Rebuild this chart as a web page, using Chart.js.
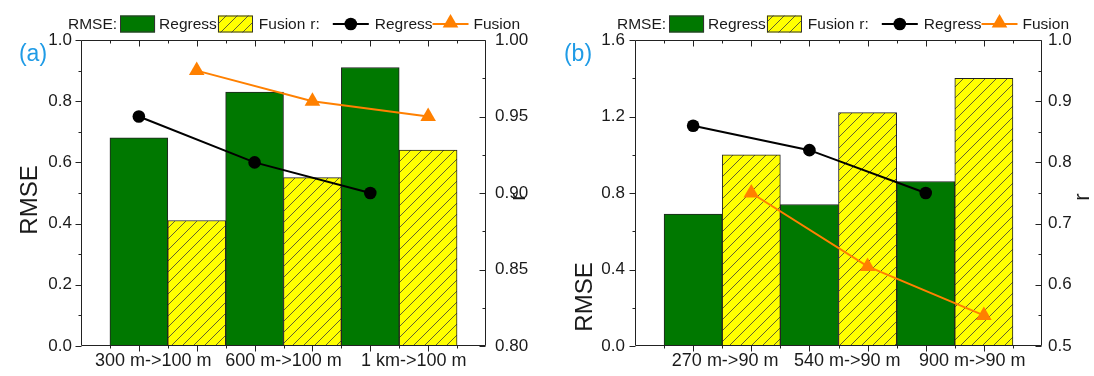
<!DOCTYPE html>
<html>
<head>
<meta charset="utf-8">
<script src="https://cdn.jsdelivr.net/npm/chart.js@4/dist/chart.umd.min.js"></script>
<style>
  html, body { margin: 0; padding: 0; background: #fff; }
  #wrap { display: flex; width: 1094px; height: 376px; }
  .panel { width: 547px; height: 376px; }
  canvas { display: block; }
</style>
</head>
<body>
<div id="wrap">
  <div class="panel"><canvas id="chartA" width="547" height="376"></canvas></div>
  <div class="panel"><canvas id="chartB" width="547" height="376"></canvas></div>
</div>
<script>
// (a) 300 m / 600 m / 1 km downscaled to 100 m
const groupsA = ["300 m->100 m", "600 m->100 m", "1 km->100 m"];
const rmseRegressA = [0.68, 0.83, 0.91];
const rmseFusionA = [0.41, 0.55, 0.64];
const rRegressA = [0.95, 0.92, 0.90];
const rFusionA = [0.98, 0.96, 0.95];
const rmseTicksA = [0.0, 0.2, 0.4, 0.6, 0.8, 1.0];
const rTicksA = [0.80, 0.85, 0.90, 0.95, 1.00];

// (b) 270 m / 540 m / 900 m downscaled to 90 m
const groupsB = ["270 m->90 m", "540 m->90 m", "900 m->90 m"];
const rmseRegressB = [0.69, 0.74, 0.86];
const rmseFusionB = [1.00, 1.22, 1.40];
const rRegressB = [0.86, 0.82, 0.75];
const rFusionB = [0.75, 0.63, 0.55];
const rmseTicksB = [0.0, 0.4, 0.8, 1.2, 1.6];
const rTicksB = [0.5, 0.6, 0.7, 0.8, 0.9, 1.0];

const GREEN = "#007800";
const YELLOW = "#ffff00";
const ORANGE = "#ff8000";
const INK = "#1a1a1a";
const FONT = '"Liberation Sans", Arial, sans-serif';
const TRI = 9;
const DOT = 6.3;
Chart.defaults.font.family = FONT;

// bars sit at 0..5: Regress on even slots, Fusion on odd slots
function points(vals, offset) {
    const out = [];
    for (let i = 0; i < vals.length; i++) {
        out.push({ x: 2 * i + offset, y: vals[i] });
    }
    return out;
}

function hatch(ctx) {
    const n = 11;
    const c = document.createElement("canvas");
    c.width = n;
    c.height = n;
    const g = c.getContext("2d");
    g.fillStyle = YELLOW;
    g.fillRect(0, 0, n, n);
    g.strokeStyle = "#3a3a3a";
    g.lineWidth = 0.8;
    g.beginPath();
    g.moveTo(0, n); g.lineTo(n, 0);
    g.moveTo(-n / 2, n / 2); g.lineTo(n / 2, -n / 2);
    g.moveTo(n / 2, n * 1.5); g.lineTo(n * 1.5, n / 2);
    g.stroke();
    return ctx.createPattern(c, "repeat");
}

function triangle(ctx, cx, cy, rad) {
    ctx.beginPath();
    for (let k = 0; k < 3; k++) {
        const a = k * 2 * Math.PI / 3;
        const px = cx + Math.sin(a) * rad, py = cy - Math.cos(a) * rad;
        if (k === 0) ctx.moveTo(px, py); else ctx.lineTo(px, py);
    }
    ctx.closePath();
    ctx.fill();
}

function drawLegend(ctx, x, y, pattern) {
    ctx.font = "15.5px " + FONT;
    ctx.textBaseline = "middle";
    ctx.textAlign = "left";
    const text = function(s) {
        ctx.fillStyle = INK;
        ctx.fillText(s, x, y + 1);
        x += ctx.measureText(s).width;
    };
    const box = function(fill) {
        ctx.fillStyle = fill;
        ctx.fillRect(x, y - 8.5, 35, 17);
        ctx.strokeStyle = "#333";
        ctx.lineWidth = 1;
        ctx.strokeRect(Math.round(x) + 0.5, y - 8, 34, 16);
        x += 35;
    };
    const sym = function(color, shape) {
        ctx.strokeStyle = color;
        ctx.fillStyle = color;
        ctx.lineWidth = 2;
        ctx.beginPath();
        ctx.moveTo(x, y); ctx.lineTo(x + 36, y);
        ctx.stroke();
        if (shape === "circle") {
            ctx.beginPath();
            ctx.arc(x + 18, y, DOT, 0, Math.PI * 2);
            ctx.fill();
        } else {
            triangle(ctx, x + 18, y - 1, TRI);
        }
        x += 36;
    };
    text("RMSE:"); x += 3;
    box(GREEN); x += 4;
    text("Regress"); x += 1;
    box(pattern); x += 6;
    text("Fusion"); x += 5;
    text("r:"); x += 13;
    sym("#000", "circle"); x += 6;
    text("Regress");
    sym(ORANGE, "tri"); x += 5;
    text("Fusion");
}

function decorations(d, lay, pattern) {
    return {
        id: "decor",
        afterDatasetsDraw(chart) {
            const ctx = chart.ctx;
            const area = chart.chartArea;
            const sx = chart.scales.x, sy = chart.scales.y, sr = chart.scales.y2;
            const L = Math.round(area.left) + 0.5, R = Math.round(area.right) - 0.5;
            const T = Math.round(area.top) + 0.5, B = Math.round(area.bottom) - 0.5;
            ctx.save();
            ctx.strokeStyle = "#222";
            ctx.lineWidth = 1;
            ctx.beginPath();
            ctx.rect(L, T, R - L, B - T);

            // x ticks: long at bar centres, short at bar edges
            const nBars = d.groups.length * 2;
            for (let v = -0.5; v <= nBars - 0.5 + 1e-9; v += 0.5) {
                const len = Number.isInteger(v) ? 6 : 3;
                const px = Math.round(sx.getPixelForValue(v)) + 0.5;
                ctx.moveTo(px, B); ctx.lineTo(px, B + len);
                ctx.moveTo(px, T); ctx.lineTo(px, T + len);
            }
            // y ticks: left axis outward, right axis inward
            const yTicks = function(ticks, scale, x0, dir) {
                for (let i = 0; i < ticks.length; i++) {
                    const py = Math.round(scale.getPixelForValue(ticks[i])) + 0.5;
                    ctx.moveTo(x0, py); ctx.lineTo(x0 + dir * 6, py);
                    if (i < ticks.length - 1) {
                        const pm = Math.round(scale.getPixelForValue((ticks[i] + ticks[i + 1]) / 2)) + 0.5;
                        ctx.moveTo(x0, pm); ctx.lineTo(x0 + dir * 3, pm);
                    }
                }
            };
            yTicks(d.rmseTicks, sy, L, -1);
            yTicks(d.rTicks, sr, R, -1);
            ctx.stroke();
            ctx.restore();
        },
        afterDraw(chart) {
            const ctx = chart.ctx;
            const area = chart.chartArea;
            ctx.save();
            drawLegend(ctx, lay.legendX, 24, pattern);

            ctx.fillStyle = "#1f9be6";
            ctx.font = "23px " + FONT;
            ctx.textAlign = "center";
            ctx.textBaseline = "middle";
            ctx.fillText(lay.tag, lay.tagX, 55);

            ctx.fillStyle = INK;
            ctx.font = "24px " + FONT;
            ctx.save();
            ctx.translate(lay.rmseTitleX, lay.rmseTitleY);
            ctx.rotate(-Math.PI / 2);
            ctx.fillText("RMSE", 0, 0);
            ctx.restore();

            ctx.font = "22px " + FONT;
            ctx.save();
            ctx.translate(lay.rTitleX, (area.top + area.bottom) / 2 + 4);
            ctx.rotate(-Math.PI / 2);
            ctx.fillText("r", 0, 0);
            ctx.restore();
            ctx.restore();
        }
    };
}

function makeChart(id, d, lay) {
    const ctx = document.getElementById(id).getContext("2d");
    const pattern = hatch(ctx);
    const width = 547;
    return new Chart(ctx, {
        type: "bar",
        data: {
            datasets: [
                {
                    type: "line", label: "r Regress", data: points(d.rRegress, 0), yAxisID: "y2",
                    borderColor: "#000", backgroundColor: "#000", borderWidth: 2,
                    pointStyle: "circle", pointRadius: DOT, pointBorderWidth: 0, order: 0
                },
                {
                    type: "line", label: "r Fusion", data: points(d.rFusion, 1), yAxisID: "y2",
                    borderColor: ORANGE, backgroundColor: ORANGE, borderWidth: 2,
                    pointStyle: "triangle", pointRadius: TRI, pointBorderWidth: 0, order: 0
                },
                {
                    label: "RMSE Regress", data: points(d.rmseRegress, 0), yAxisID: "y",
                    backgroundColor: GREEN, borderColor: "#222", borderWidth: 1,
                    grouped: false, barPercentage: 1, categoryPercentage: 1, order: 1
                },
                {
                    label: "RMSE Fusion", data: points(d.rmseFusion, 1), yAxisID: "y",
                    backgroundColor: pattern, borderColor: "#222", borderWidth: 1,
                    grouped: false, barPercentage: 1, categoryPercentage: 1, order: 1
                }
            ]
        },
        options: {
            responsive: false,
            animation: false,
            events: [],
            layout: { padding: { top: 40, left: 0, right: 0, bottom: 0 } },
            plugins: { legend: { display: false }, tooltip: { enabled: false } },
            scales: {
                x: {
                    type: "linear",
                    offset: false,
                    min: -1,
                    max: d.groups.length * 2,
                    grid: { display: false, drawTicks: false, offset: false },
                    border: { display: false },
                    afterBuildTicks: function(s) {
                        s.ticks = lay.labelPos.map(function(v) { return { value: v }; });
                    },
                    afterFit: function(s) { s.height = 30; },
                    ticks: {
                        autoSkip: false, maxRotation: 0, padding: 4, color: INK,
                        font: { size: 18 },
                        callback: function(v, i) { return d.groups[i]; }
                    }
                },
                y: {
                    position: "left",
                    min: d.rmseTicks[0],
                    max: d.rmseTicks[d.rmseTicks.length - 1],
                    grid: { display: false, drawTicks: false },
                    border: { display: false },
                    afterBuildTicks: function(s) {
                        s.ticks = d.rmseTicks.map(function(v) { return { value: v }; });
                    },
                    afterFit: function(s) { s.width = lay.left; },
                    ticks: {
                        padding: lay.leftPad, color: INK, font: { size: 17 },
                        callback: function(v) { return v.toFixed(1); }
                    }
                },
                y2: {
                    type: "linear",
                    position: "right",
                    min: d.rTicks[0],
                    max: d.rTicks[d.rTicks.length - 1],
                    grid: { display: false, drawTicks: false },
                    border: { display: false },
                    afterBuildTicks: function(s) {
                        s.ticks = d.rTicks.map(function(v) { return { value: v }; });
                    },
                    afterFit: function(s) { s.width = width - lay.right; },
                    ticks: {
                        padding: lay.rightPad, color: INK, font: { size: 17 },
                        callback: function(v) { return v.toFixed(lay.rDigits); }
                    }
                }
            }
        },
        plugins: [decorations(d, lay, pattern)]
    });
}

makeChart("chartA", {
    groups: groupsA, rmseRegress: rmseRegressA, rmseFusion: rmseFusionA,
    rRegress: rRegressA, rFusion: rFusionA, rmseTicks: rmseTicksA, rTicks: rTicksA
}, {
    tag: "(a)", tagX: 33, left: 81, right: 486, leftPad: 9, rightPad: 9, rDigits: 2,
    labelPos: [0.25, 2.5, 4.75], legendX: 68, rmseTitleX: 30, rmseTitleY: 200, rTitleX: 519
});

makeChart("chartB", {
    groups: groupsB, rmseRegress: rmseRegressB, rmseFusion: rmseFusionB,
    rRegress: rRegressB, rFusion: rFusionB, rmseTicks: rmseTicksB, rTicks: rTicksB
}, {
    tag: "(b)", tagX: 31, left: 88, right: 495, leftPad: 10, rightPad: 6, rDigits: 1,
    labelPos: [0.55, 2.65, 4.8], legendX: 70, rmseTitleX: 38, rmseTitleY: 297, rTitleX: 536
});
</script>
</body>
</html>
